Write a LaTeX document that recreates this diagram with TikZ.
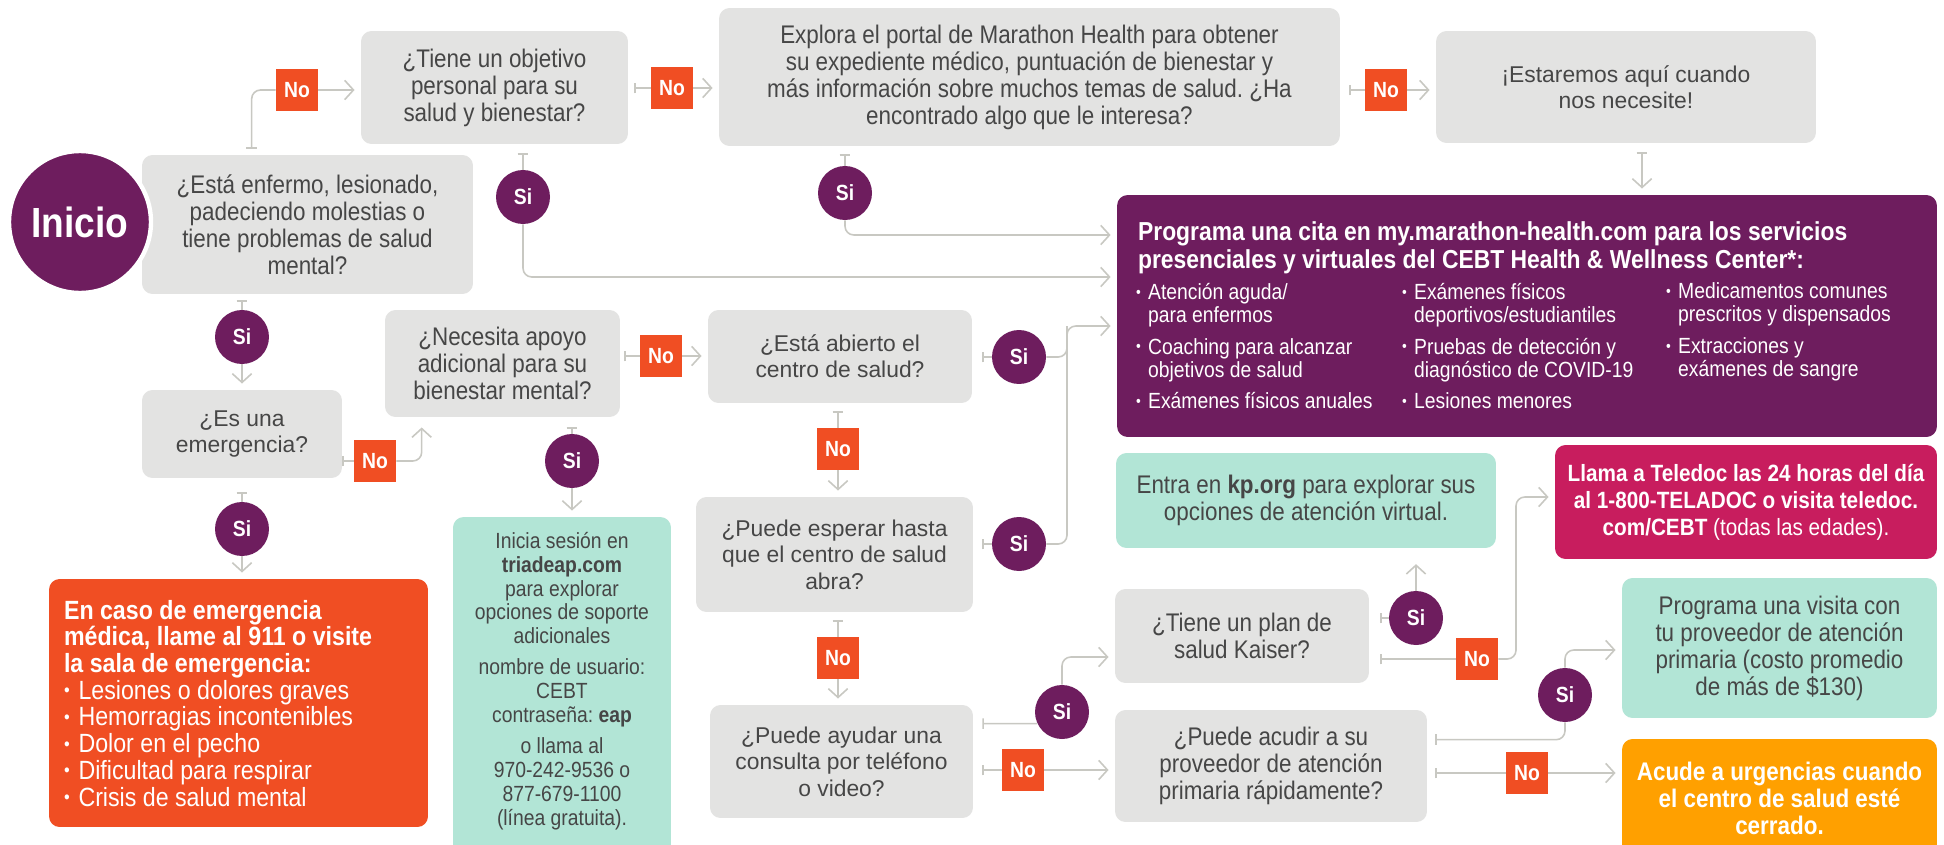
\documentclass[tikz,border=0pt]{standalone}
\usepackage{fontspec}
\setmainfont{Liberation Sans}[FakeStretch=0.88]
\newfontfamily\plainfont{Liberation Sans}
\usepackage{graphicx}
\usetikzlibrary{arrows.meta, calc}
\definecolor{boxgray}{RGB}{227,227,226}
\definecolor{cebtpurple}{RGB}{110,29,94}
\definecolor{noorange}{RGB}{240,78,35}
\definecolor{mint}{RGB}{178,229,214}
\definecolor{berry}{RGB}{200,29,94}
\definecolor{amber}{RGB}{255,160,0}
\definecolor{wiregray}{RGB}{200,200,194}
\definecolor{ink}{RGB}{70,70,70}
\newcommand{\bul}{\makebox[0.55em][l]{\raisebox{0.1em}{\scalebox{0.7}{•}}}}
\newcommand{\bsp}{\hspace*{0.55em}}
\frenchspacing

\begin{document}
\begin{tikzpicture}[x=0.02cm, y=-0.02cm,
  qbox/.style={fill=boxgray, rounded corners=6pt, inner sep=0pt, align=center, text=ink, font=\fontsize{14.5}{15.4}\selectfont},
  rbox/.style={qbox, font=\plainfont\fontsize{13}{15}\selectfont},
  mbox/.style={qbox, fill=mint},
  silab/.style={circle, fill=cebtpurple, text=white, minimum size=1.08cm, inner sep=0pt, font=\bfseries\fontsize{12.5}{12.5}\selectfont},
  nolab/.style={fill=noorange, text=white, minimum size=0.84cm, inner sep=0pt, font=\bfseries\fontsize{12.5}{12.5}\selectfont},
  wire/.style={draw=wiregray, line width=0.9pt},
  tee/.style={wire, {Bar[width=6pt]}-},
  arr/.style={wire, -{Straight Barb[length=5pt, width=11pt]}, shorten >=3.5pt},
  link/.style={wire, {Bar[width=6pt]}-{Straight Barb[length=5pt, width=11pt]}, shorten >=3.5pt},
]
  \fill[white] (0,0) rectangle (1944,845);
  \useasboundingbox (0,0) rectangle (1944,845);

  % question boxes
  \node[qbox, minimum width=6.62cm, minimum height=2.78cm] (q1) at (307.5,224.5) {¿Está enfermo, lesionado,\\ padeciendo molestias o\\ tiene problemas de salud\\ mental?};
  \node[circle, fill=cebtpurple, draw=white, line width=2.5pt, minimum size=2.84cm, text=white, font=\bfseries\fontsize{24}{24}\selectfont] (inicio) at (80,222) {Inicio};
  \node[qbox, minimum width=5.34cm, minimum height=2.26cm] (q2) at (494.5,87.5) {¿Tiene un objetivo\\ personal para su\\ salud y bienestar?};
  \node[qbox, minimum width=12.42cm, minimum height=2.76cm] (q3) at (1029.5,77) {Explora el portal de Marathon Health para obtener\\ su expediente médico, puntuación de bienestar y\\ más información sobre muchos temas de salud. ¿Ha\\ encontrado algo que le interesa?};
  \node[rbox, minimum width=7.6cm, minimum height=2.24cm] (fin) at (1626,87) {¡Estaremos aquí cuando\\ nos necesite!};
  \node[rbox, minimum width=4cm, minimum height=1.76cm] (emerg) at (242,434) {¿Es una\\ emergencia?};
  \node[qbox, minimum width=4.7cm, minimum height=2.14cm] (mental) at (502.5,363.5) {¿Necesita apoyo\\ adicional para su\\ bienestar mental?};
  \node[rbox, minimum width=5.28cm, minimum height=1.86cm] (abierto) at (840,356.5) {¿Está abierto el\\ centro de salud?};
  \node[rbox, minimum width=5.54cm, minimum height=2.3cm] (esperar) at (834.5,554.5) {¿Puede esperar hasta\\ que el centro de salud\\ abra?};
  \node[rbox, minimum width=5.26cm, minimum height=2.26cm] (consulta) at (841.5,761.5) {¿Puede ayudar una\\ consulta por teléfono\\ o video?};
  \node[qbox, minimum width=5.08cm, minimum height=1.88cm] (kaiser) at (1242,636) {¿Tiene un plan de\\ salud Kaiser?};
  \node[qbox, minimum width=6.24cm, minimum height=2.24cm] (acudir) at (1271,766) {¿Puede acudir a su\\ proveedor de atención\\ primaria rápidamente?};

  % result boxes
  \node[qbox, fill=cebtpurple, minimum width=16.4cm, minimum height=4.84cm] (cita) at (1527,316) {};
  \node[anchor=north west, align=left, text=white, font=\bfseries\fontsize{14.8}{15.6}\selectfont, inner sep=0pt] (citatitle) at ($(cita.north west)+(21,27)$) {Programa una cita en my.marathon-health.com para los servicios\\ presenciales y virtuales del CEBT Health \& Wellness Center*:};
  \node[anchor=north west, align=left, text=white, font=\fontsize{12.5}{13.1}\selectfont, inner sep=0pt] (citacol1) at ($(cita.north west)+(19,88)$) {\bul Atención aguda/\\ \bsp para enfermos\\[5pt] \bul Coaching para alcanzar\\ \bsp objetivos de salud\\[5pt] \bul Exámenes físicos anuales};
  \node[anchor=north west, align=left, text=white, font=\fontsize{12.5}{13.1}\selectfont, inner sep=0pt] (citacol2) at ($(cita.north west)+(285,88)$) {\bul Exámenes físicos\\ \bsp deportivos/estudiantiles\\[5pt] \bul Pruebas de detección y\\ \bsp diagnóstico de COVID-19\\[5pt] \bul Lesiones menores};
  \node[anchor=north west, align=left, text=white, font=\fontsize{12.5}{13.1}\selectfont, inner sep=0pt] (citacol3) at ($(cita.north west)+(549,88)$) {\bul Medicamentos comunes\\ \bsp prescritos y dispensados\\[5pt] \bul Extracciones y\\ \bsp exámenes de sangre};

  \node[qbox, fill=noorange, minimum width=7.58cm, minimum height=4.96cm] (urg911) at (238.5,703) {};
  \node[anchor=north west, align=left, text=white, font=\fontsize{15}{15.2}\selectfont, inner sep=0pt] (urgtext) at ($(urg911.north west)+(15,21)$) {\textbf{En caso de emergencia}\\ \textbf{médica, llame al 911 o visite}\\ \textbf{la sala de emergencia:}\\ \bul Lesiones o dolores graves\\ \bul Hemorragias incontenibles\\ \bul Dolor en el pecho\\ \bul Dificultad para respirar\\ \bul Crisis de salud mental};

  \node[mbox, minimum width=4.36cm, minimum height=7.06cm] (eap) at (562,693.5) {};
  \node[anchor=north, align=center, text=ink, font=\fontsize{12.5}{13.6}\selectfont, inner sep=0pt] (eaptext) at ($(eap.north)+(0,15)$) {Inicia sesión en\\ \textbf{triadeap.com}\\ para explorar\\ opciones de soporte\\ adicionales\\[4pt] nombre de usuario:\\ CEBT\\ contraseña: \textbf{eap}\\[4pt] o llama al\\ 970-242-9536 o\\ 877-679-1100\\ (línea gratuita).};

  \node[mbox, minimum width=7.6cm, minimum height=1.9cm] (kp) at (1306,500.5) {Entra en \textbf{kp.org} para explorar sus\\ opciones de atención virtual.};
  \node[qbox, fill=berry, text=white, font=\bfseries\fontsize{13.4}{15.4}\selectfont, minimum width=7.64cm, minimum height=2.28cm] (teledoc) at (1746,502) {Llama a Teledoc las 24 horas del día\\ al 1-800-TELADOC o visita teledoc.\\ com/CEBT {\mdseries (todas las edades).}};
  \node[mbox, minimum width=6.3cm, minimum height=2.8cm] (visita) at (1779.5,648) {Programa una visita con\\ tu proveedor de atención\\ primaria (costo promedio\\ de más de \$130)};
  \node[qbox, fill=amber, text=white, font=\bfseries\fontsize{14.5}{15.4}\selectfont, minimum width=6.3cm, minimum height=2.36cm] (acude) at (1779.5,798) {Acude a urgencias cuando\\ el centro de salud esté\\ cerrado.};

  % answer badges
  \node[nolab] (noA) at (297,90) {No};
  \node[silab] (siA) at (523,197) {Si};
  \node[nolab] (noB) at (672,88) {No};
  \node[silab] (siB) at (845,193) {Si};
  \node[nolab] (noC) at (1386,90) {No};
  \node[silab] (siC) at (242,337) {Si};
  \node[nolab] (noD) at (375,461) {No};
  \node[silab] (siD) at (242,529) {Si};
  \node[nolab] (noE) at (661,356) {No};
  \node[silab] (siE) at (572,461) {Si};
  \node[silab] (siF) at (1019,357) {Si};
  \node[nolab] (noF) at (838,449) {No};
  \node[silab] (siG) at (1019,544) {Si};
  \node[nolab] (noG) at (838,658) {No};
  \node[silab] (siH) at (1062,712) {Si};
  \node[nolab] (noH) at (1023,770) {No};
  \node[silab] (siI) at (1416,618) {Si};
  \node[nolab] (noI) at (1477,659) {No};
  \node[silab] (siJ) at (1565,695) {Si};
  \node[nolab] (noJ) at (1527,773) {No};

  % connectors
  \draw[tee, rounded corners=5pt] ($(q1.north west)+(110,-6)$) |- (noA);
  \draw[arr] (noA) -- (noA -| q2.west);
  \draw[tee] ($(siA |- q2.south)+(0,9)$) -- (siA);
  \draw[arr, rounded corners=5pt] (siA) |- ($(cita.west)+(0,-39)$);
  \draw[tee] ($(noB -| q2.east)+(6,0)$) -- (noB);
  \draw[arr] (noB) -- (noB -| q3.west);
  \draw[tee] ($(siB |- q3.south)+(0,8)$) -- (siB);
  \draw[arr, rounded corners=5pt] (siB) |- ($(cita.west)+(0,-81)$);
  \draw[tee] ($(noC -| q3.east)+(9,0)$) -- (noC);
  \draw[arr] (noC) -- (noC -| fin.west);
  \coordinate (finout) at ($(fin.south)+(16,9)$);
  \draw[link] (finout) -- (finout |- cita.north);

  \draw[tee] ($(siC |- q1.south)+(0,6)$) -- (siC);
  \draw[arr] (siC) -- (siC |- emerg.north);
  \draw[tee] (noD -| emerg.east) -- (noD);
  \draw[arr, rounded corners=5pt] (noD) -| ($(mental.south west)+(37,4)$);
  \draw[tee] ($(siD |- emerg.south)+(0,14)$) -- (siD);
  \draw[arr] (siD) -- (siD |- urg911.north);
  \draw[tee] ($(noE -| mental.east)+(4,0)$) -- (noE);
  \draw[arr] (noE) -- (noE -| abierto.west);
  \draw[tee] ($(siE |- mental.south)+(0,10)$) -- (siE);
  \draw[arr] (siE) -- (siE |- eap.north);

  \draw[tee] ($(siF -| abierto.east)+(10,0)$) -- (siF);
  \coordinate (bus) at (1067,326);
  \draw[arr, rounded corners=5pt] (siF) -| (bus) -- (bus -| cita.west);
  \draw[wire, rounded corners=5pt] (siG) -| (bus);
  \draw[tee] ($(noF |- abierto.south)+(0,8)$) -- (noF);
  \draw[arr] (noF) -- (noF |- esperar.north);
  \draw[tee] ($(siG -| esperar.east)+(9,0)$) -- (siG);
  \draw[tee] ($(noG |- esperar.south)+(0,8)$) -- (noG);
  \draw[arr] (noG) -- (noG |- consulta.north);

  \draw[tee] ($(consulta.north east)+(9,19)$) -- (siH.205);
  \draw[arr, rounded corners=5pt] (siH) |- ($(kaiser.west)+(0,21)$);
  \draw[tee] ($(noH -| consulta.east)+(9,0)$) -- (noH);
  \draw[arr] (noH) -- (noH -| acudir.west);
  \draw[tee] ($(siI -| kaiser.east)+(11,0)$) -- (siI);
  \draw[arr, shorten >=9pt] (siI) -- (siI |- kp.south);
  \draw[tee] ($(noI -| kaiser.east)+(11,0)$) -- (noI);
  \coordinate (tdbus) at (1516,497);
  \draw[arr, rounded corners=5pt] (noI) -| (tdbus) -- (tdbus -| teledoc.west);
  \draw[tee, rounded corners=5pt] ($(acudir.north east)+(8,30)$) -| (siJ);
  \draw[arr, rounded corners=5pt] (siJ) |- ($(visita.west)+(0,2)$);
  \draw[tee] ($(noJ -| acudir.east)+(8,0)$) -- (noJ);
  \draw[arr] (noJ) -- (noJ -| acude.west);
\end{tikzpicture}
\end{document}
